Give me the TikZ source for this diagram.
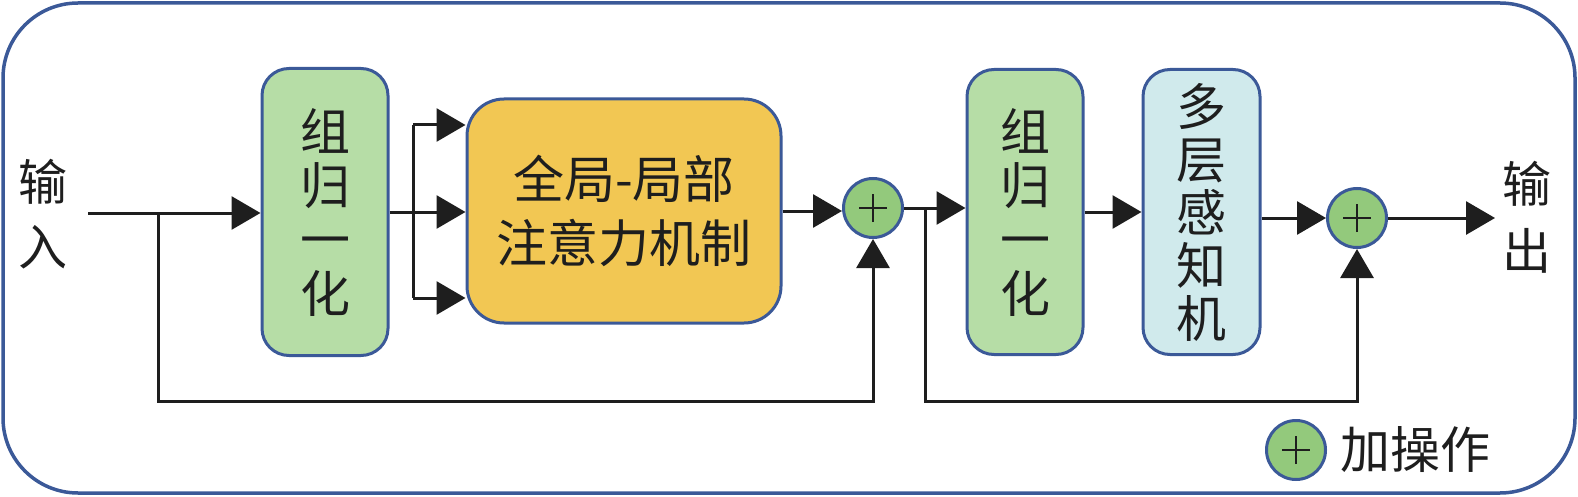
\documentclass[tikz,border=0pt]{standalone}
\usepackage{fontspec}
\newfontfamily\cjk{Noto Sans CJK SC}
\usetikzlibrary{arrows.meta}
\definecolor{bord}{RGB}{59,89,152}
\definecolor{gnfill}{RGB}{182,221,166}
\definecolor{attfill}{RGB}{242,199,83}
\definecolor{mlpfill}{RGB}{208,234,236}
\definecolor{addfill}{RGB}{147,201,124}
\definecolor{ink}{RGB}{30,30,30}
\tikzset{
  blk/.style={draw=bord, line width=3pt, rounded corners=27pt, inner sep=0pt, align=center,
    font=\cjk\fontsize{50}{54}\selectfont, text=ink},
  lbl/.style={inner sep=0pt, align=center, font=\cjk\fontsize{49}{65}\selectfont, text=ink},
  addop/.style={circle, draw=bord, line width=3pt, fill=addfill, minimum size=59pt, inner sep=0pt,
    path picture={\draw[ink, line width=2pt] ([xshift=-14pt]path picture bounding box.center) -- ([xshift=14pt]path picture bounding box.center);
                  \draw[ink, line width=2pt] ([yshift=-14pt]path picture bounding box.center) -- ([yshift=14pt]path picture bounding box.center);}},
  conn/.style={draw=ink, line width=3pt},
  arr/.style={conn, -{Triangle[length=29pt,width=33pt]}},
}
\begin{document}
\begin{tikzpicture}[x=1pt,y=-1pt]
\useasboundingbox (0,0) rectangle (1578,497);
\draw[bord, line width=3.5pt, rounded corners=75pt] (3,3) rectangle (1575,493);

\node[lbl] (in) at (43,214) {输\\入};
\node[blk, fill=gnfill, minimum width=126pt, minimum height=287pt] (gn1) at (325,212) {组\\归\\一\\化};
\node[blk, fill=attfill, minimum width=314pt, minimum height=224pt, rounded corners=37pt,
      font=\cjk\fontsize{51}{64}\selectfont] (att) at (624,211) {全局-局部\\注意力机制};
\node[addop] (c1) at (873,208) {};
\node[blk, fill=gnfill, minimum width=116pt, minimum height=285pt] (gn2) at (1025,212) {组\\归\\一\\化};
\node[blk, fill=mlpfill, minimum width=117pt, minimum height=285pt, font=\cjk\fontsize{50}{53}\selectfont] (mlp) at (1201.5,212) {多\\层\\感\\知\\机};
\node[addop] (c2) at (1357,218) {};
\node[lbl, font=\cjk\fontsize{49}{67}\selectfont] (out) at (1527,217) {输\\出};
\node[addop] (leg) at (1296,450) {};
\node[lbl, anchor=west, font=\cjk\fontsize{50}{60}\selectfont] (legt) at (1340,450) {加操作};

% input path
\coordinate (inS) at (88,213);
\coordinate (b1) at (158,213);
\coordinate (low1) at (158,401);
\draw[arr] (inS) -- (inS -| gn1.west);
\draw[arr] (b1) -- (low1) -| (c1.south);

% fork into attention
\coordinate (fk) at (413,212);
\coordinate (fkT) at (413,125);
\coordinate (fkB) at (413,298);
\draw[conn] (gn1.east) -- (fk);
\draw[conn] (fkT) -- (fkB);
\draw[arr] (fkT) -- (fkT -| att.west);
\draw[arr] (fk) -- (fk -| att.west);
\draw[arr] (fkB) -- (fkB -| att.west);

\draw[arr] (att.east) -- (att.east -| c1.west);

% second half
\coordinate (b2) at (925,208);
\coordinate (low2) at (925,401);
\draw[arr] (c1.east) -- (c1.east -| gn2.west);
\draw[arr] (b2) -- (low2) -| (c2.south);
\draw[arr] (gn2.east) -- (mlp.west);
\draw[arr] (mlp.east |- c2.west) -- (c2.west);
\coordinate (outE) at (1495,218);
\draw[arr] (c2.east) -- (outE);
\end{tikzpicture}
\end{document}
